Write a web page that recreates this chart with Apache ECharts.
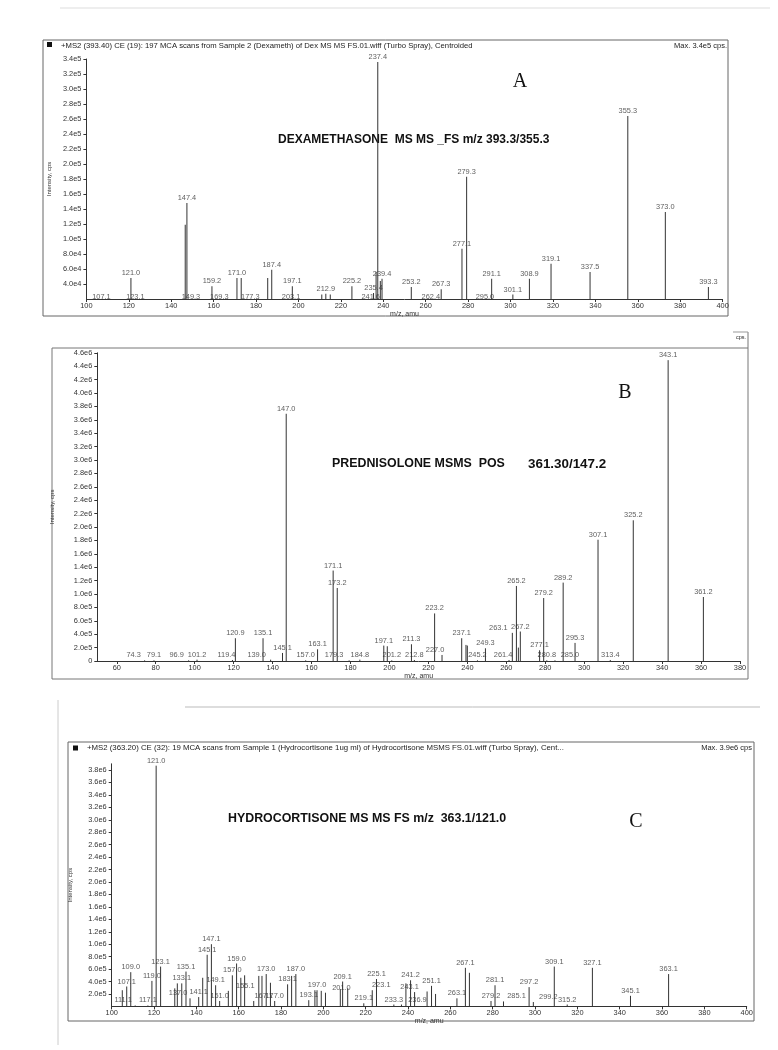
<!DOCTYPE html>
<html>
<head>
<meta charset="utf-8">
<script src="https://cdn.jsdelivr.net/npm/echarts@6/dist/echarts.min.js"></script>
<style>
  html, body { margin: 0; padding: 0; background: #fff; }
  #chart { width: 778px; height: 1050px; }
</style>
</head>
<body>
<div id="chart"></div>
<script>
// ---- A: dexamethasone, labelled peaks (m/z, intensity cps)
var mzA  = [107.1, 121.0, 123.1, 147.4, 149.3, 159.2, 169.3, 171.0, 177.3, 187.4, 197.1, 203.1, 212.9, 225.2, 235.4, 237.4, 239.4, 241.6, 253.2, 262.4, 267.3, 277.1, 279.3, 291.1, 295.0, 301.1, 308.9, 319.1, 337.5, 355.3, 373.0, 393.3];
var intA = [1.6e4, 4.8e4, 1.6e4, 1.48e5, 1.6e4, 3.7e4, 1.6e4, 4.8e4, 1.6e4, 5.9e4, 3.7e4, 1.6e4, 2.7e4, 3.7e4, 2.8e4, 3.36e5, 4.7e4, 1.6e4, 3.6e4, 1.6e4, 3.3e4, 8.7e4, 1.83e5, 4.7e4, 1.6e4, 2.6e4, 4.7e4, 6.7e4, 5.6e4, 2.64e5, 1.36e5, 3.6e4];
// unlabelled sticks
var minorMzA  = [146.6, 173.0, 185.5, 211.0, 215.0, 236.6, 238.6];
var minorIntA = [1.19e5, 4.8e4, 4.8e4, 2.6e4, 2.6e4, 5.6e4, 4.4e4];

// ---- B: prednisolone
var mzB  = [74.3, 79.1, 96.9, 101.2, 119.4, 120.9, 135.1, 139.0, 145.1, 147.0, 157.0, 163.1, 171.1, 173.2, 179.3, 184.8, 197.1, 201.2, 211.3, 212.8, 223.2, 227.0, 237.1, 245.2, 249.3, 261.4, 263.1, 265.2, 267.2, 277.1, 279.2, 280.8, 285.0, 289.2, 295.3, 307.1, 313.4, 325.2, 343.1, 361.2];
var intB = [1e4, 1e4, 1e4, 2e4, 1.5e4, 3.4e5, 3.4e5, 2e4, 1.2e5, 3.69e6, 1e4, 1.75e5, 1.35e6, 1.09e6, 1e4, 2e4, 2.3e5, 1e4, 2.5e5, 1.5e4, 7.1e5, 9e4, 3.4e5, 1e4, 1.9e5, 1.5e4, 4.2e5, 1.12e6, 4.4e5, 1.6e5, 9.4e5, 1e4, 1e4, 1.17e6, 2.7e5, 1.81e6, 1.5e4, 2.10e6, 4.49e6, 9.55e5];
var minorMzB  = [198.9, 239.3, 240.0, 266.2];
var minorIntB = [2.2e5, 2.4e5, 2.3e5, 2.0e5];

// ---- C: hydrocortisone
var mzC  = [107.1, 109.0, 111.1, 117.1, 119.0, 121.0, 123.1, 133.1, 135.1, 137.0, 141.1, 145.1, 147.1, 149.1, 151.0, 155.1, 157.0, 159.0, 167.1, 173.0, 177.0, 183.1, 187.0, 193.1, 197.0, 201.0, 209.1, 219.1, 223.1, 225.1, 233.3, 236.9, 241.2, 243.1, 251.1, 263.1, 267.1, 279.2, 281.1, 285.1, 297.2, 299.2, 309.1, 315.2, 327.1, 345.1, 363.1];
var intC = [3.2e5, 5.5e5, 1.5e4, 1.5e4, 4.1e5, 3.87e6, 6.4e5, 3.7e5, 5.6e5, 1.3e5, 1.5e5, 8.3e5, 1.0e6, 3.4e5, 8.7e4, 2.5e5, 5.0e5, 6.9e5, 8.7e4, 5.2e5, 8.7e4, 3.55e5, 5.2e5, 1.0e5, 2.6e5, 2.2e5, 4.0e5, 5e4, 2.6e5, 4.4e5, 3e4, 3e4, 4.2e5, 2.3e5, 3.3e5, 1.3e5, 6.2e5, 8.7e4, 3.4e5, 8e4, 3.1e5, 7e4, 6.4e5, 3e4, 6.2e5, 1.7e5, 5.2e5];
var minorMzC  = [105.0, 129.8, 131.0, 143.0, 161.0, 162.8, 169.5, 171.0, 175.0, 185.0, 196.0, 199.0, 208.0, 211.5, 239.0, 249.0, 253.0, 269.0];
var minorIntC = [2.6e5, 2.9e5, 3.7e5, 4.6e5, 4.6e5, 5.0e5, 4.9e5, 4.9e5, 3.8e5, 4.9e5, 2.6e5, 2.5e5, 2.8e5, 2.9e5, 3.7e5, 2.4e5, 2.0e5, 5.4e5];

// tick labels
var xTicksA = [100, 120, 140, 160, 180, 200, 220, 240, 260, 280, 300, 320, 340, 360, 380, 400];
var yTicksA = [40000, 60000, 80000, 100000, 120000, 140000, 160000, 180000, 200000, 220000, 240000, 260000, 280000, 300000, 320000, 340000];
var xTicksB = [60, 80, 100, 120, 140, 160, 180, 200, 220, 240, 260, 280, 300, 320, 340, 360, 380];
var yTicksB = [0, 2e5, 4e5, 6e5, 8e5, 1e6, 1.2e6, 1.4e6, 1.6e6, 1.8e6, 2e6, 2.2e6, 2.4e6, 2.6e6, 2.8e6, 3e6, 3.2e6, 3.4e6, 3.6e6, 3.8e6, 4e6, 4.2e6, 4.4e6, 4.6e6];
var xTicksC = [100, 120, 140, 160, 180, 200, 220, 240, 260, 280, 300, 320, 340, 360, 380, 400];
var yTicksC = [2e5, 4e5, 6e5, 8e5, 1e6, 1.2e6, 1.4e6, 1.6e6, 1.8e6, 2e6, 2.2e6, 2.4e6, 2.6e6, 2.8e6, 3e6, 3.2e6, 3.4e6, 3.6e6, 3.8e6];

// sideways nudges (px) of crowded peak labels, keyed by m/z
var labelShiftA = { '169.3': -14, '203.1': -14, '241.6': -16, '295.0': -15 };
var labelShiftB = { '74.3': -11, '96.9': -12, '119.4': -6, '139.0': -14, '179.3': -15, '227.0': -7, '261.4': -6, '263.1': -14, '285.0': 15 };
var labelShiftC = { '111.1': -12, '137.0': -12, '155.1': 17, '167.1': 10, '201.0': 16, '223.1': 9, '236.9': 16, '243.1': -5, '285.1': 13, '299.2': 15 };

var FONT = '"Liberation Sans", Arial, sans-serif';
var INK = '#333';

function zip(a, b) { return a.map(function (v, i) { return [v, b[i]]; }); }

function sciLabel(v) {
    if (v === 0) return '0';
    return v.toExponential(1).replace('e+', 'e');
}

function stick(base) {
    return function (params, api) {
        var x = api.value(0), v = api.value(1);
        if (v <= base) return;
        var top = api.coord([x, v]);
        var bot = api.coord([x, base]);
        return {
            type: 'line',
            shape: { x1: bot[0], y1: bot[1], x2: top[0], y2: top[1] },
            style: { stroke: '#333', lineWidth: 1 }
        };
    };
}

function xAxisOf(idx, min, max, ticks, gap) {
    return {
        gridIndex: idx, type: 'value', min: min, max: max,
        axisLine: { lineStyle: { color: INK, width: 1 } },
        axisTick: { customValues: ticks, length: 3, lineStyle: { color: INK } },
        axisLabel: { customValues: ticks, fontSize: 7.4, margin: 3, color: INK, fontFamily: FONT },
        splitLine: { show: false },
        name: 'm/z, amu', nameLocation: 'middle', nameGap: gap,
        nameTextStyle: { fontSize: 7, color: INK, fontFamily: FONT }
    };
}

function yAxisOf(idx, min, max, ticks, gap) {
    return {
        gridIndex: idx, type: 'value', min: min, max: max,
        axisLine: { show: true, lineStyle: { color: INK, width: 1 } },
        axisTick: { show: true, customValues: ticks, length: 3, lineStyle: { color: INK } },
        axisLabel: { customValues: ticks, fontSize: 7.4, margin: 5, color: INK, fontFamily: FONT, formatter: sciLabel },
        splitLine: { show: false },
        name: 'Intensity, cps', nameLocation: 'middle', nameGap: gap, nameRotate: 90,
        nameTextStyle: { fontSize: 6, color: INK, fontFamily: FONT }
    };
}

function panelSeries(idx, base, mz, inten, minorMz, minorInt, shifts) {
    return [
        {
            type: 'custom', xAxisIndex: idx, yAxisIndex: idx,
            renderItem: stick(base), silent: true,
            data: zip(mz, inten).concat(zip(minorMz, minorInt))
        },
        {
            type: 'scatter', xAxisIndex: idx, yAxisIndex: idx,
            symbolSize: 1, itemStyle: { color: 'rgba(0,0,0,0)' }, clip: false, silent: true,
            label: {
                show: true, position: 'top', distance: 1,
                fontSize: 7.4, color: INK, fontFamily: FONT,
                formatter: function (p) { return p.value[0].toFixed(1); }
            },
            labelLayout: function (p) {
                var dx = shifts[mz[p.dataIndex].toFixed(1)] || 0;
                return { dx: dx, hideOverlap: false };
            },
            data: zip(mz, inten)
        }
    ];
}

function txt(x, y, s, font, align, fill) {
    return {
        type: 'text', x: x, y: y, silent: true,
        style: { text: s, font: font, fill: fill || '#222', align: align || 'left', verticalAlign: 'middle' }
    };
}

function box(x, y, w, h, color) {
    return {
        type: 'rect', shape: { x: x, y: y, width: w, height: h }, silent: true,
        style: { fill: null, stroke: color || '#555', lineWidth: 1 }
    };
}

function hline(x1, x2, y, color) {
    return { type: 'line', silent: true, shape: { x1: x1, y1: y, x2: x2, y2: y }, style: { stroke: color, lineWidth: 1 } };
}
function vline(x, y1, y2, color) {
    return { type: 'line', silent: true, shape: { x1: x, y1: y1, x2: x, y2: y2 }, style: { stroke: color, lineWidth: 1 } };
}

var chart = echarts.init(document.getElementById('chart'), null, { renderer: 'canvas' });

var option = {
    backgroundColor: '#fff',
    animation: false,
    grid: [
        { left: 86.4, top: 59, width: 636.2, height: 240, outerBoundsMode: 'none' },
        { left: 97.3, top: 352.8, width: 642.7, height: 308.2, outerBoundsMode: 'none' },
        { left: 111.7, top: 763.8, width: 635, height: 242.6, outerBoundsMode: 'none' }
    ],
    xAxis: [
        xAxisOf(0, 100, 400, xTicksA, 12),
        xAxisOf(1, 50, 380, xTicksB, 12),
        xAxisOf(2, 100, 400, xTicksC, 10)
    ],
    yAxis: [
        yAxisOf(0, 2e4, 3.4e5, yTicksA, 34),
        yAxisOf(1, 0, 4.6e6, yTicksB, 42),
        yAxisOf(2, 0, 3.9e6, yTicksC, 38)
    ],
    series: []
        .concat(panelSeries(0, 2e4, mzA, intA, minorMzA, minorIntA, labelShiftA))
        .concat(panelSeries(1, 0, mzB, intB, minorMzB, minorIntB, labelShiftB))
        .concat(panelSeries(2, 0, mzC, intC, minorMzC, minorIntC, labelShiftC)),
    graphic: [
        // page edges from the scan
        hline(60, 770, 8, '#ddd'),
        // panel A
        box(43, 40, 685, 276, '#666'),
        { type: 'rect', shape: { x: 47, y: 42, width: 5, height: 5 }, style: { fill: '#111' }, silent: true },
        txt(61, 45.5, '+MS2 (393.40) CE (19): 197 MCA scans from Sample 2 (Dexameth) of Dex MS MS FS.01.wiff (Turbo Spray), Centroided', '7.7px ' + FONT),
        txt(727, 45.5, 'Max. 3.4e5 cps.', '7.5px ' + FONT, 'right'),
        txt(520, 82, 'A', '20px "Liberation Serif", serif', 'center', '#111'),
        txt(278, 140, 'DEXAMETHASONE  MS MS _FS m/z 393.3/355.3', 'bold 12px ' + FONT, 'left', '#111'),
        // panel B
        box(52, 348, 696, 331, '#777'),
        vline(748, 332, 348, '#777'),
        hline(733, 748, 332, '#999'),
        txt(741, 337.5, 'cps.', '5.5px ' + FONT, 'center'),
        txt(625, 393, 'B', '20px "Liberation Serif", serif', 'center', '#111'),
        txt(332, 464, 'PREDNISOLONE MSMS  POS', 'bold 12.4px ' + FONT, 'left', '#111'),
        txt(528, 464, '361.30/147.2', 'bold 13.4px ' + FONT, 'left', '#111'),
        // panel C
        hline(185, 760, 707, '#bbb'),
        vline(58, 700, 1045, '#ccc'),
        box(68, 742, 686, 279, '#666'),
        { type: 'rect', shape: { x: 73, y: 745.5, width: 5, height: 5 }, style: { fill: '#111' }, silent: true },
        txt(87, 748, '+MS2 (363.20) CE (32): 19 MCA scans from Sample 1 (Hydrocortisone 1ug ml) of Hydrocortisone MSMS FS.01.wiff (Turbo Spray), Cent...', '7.8px ' + FONT),
        txt(752, 748, 'Max. 3.9e6 cps', '7.5px ' + FONT, 'right'),
        txt(636, 822, 'C', '20px "Liberation Serif", serif', 'center', '#111'),
        txt(228, 819, 'HYDROCORTISONE MS MS FS m/z  363.1/121.0', 'bold 12.4px ' + FONT, 'left', '#111')
    ]
};

chart.setOption(option);
</script>
</body>
</html>
